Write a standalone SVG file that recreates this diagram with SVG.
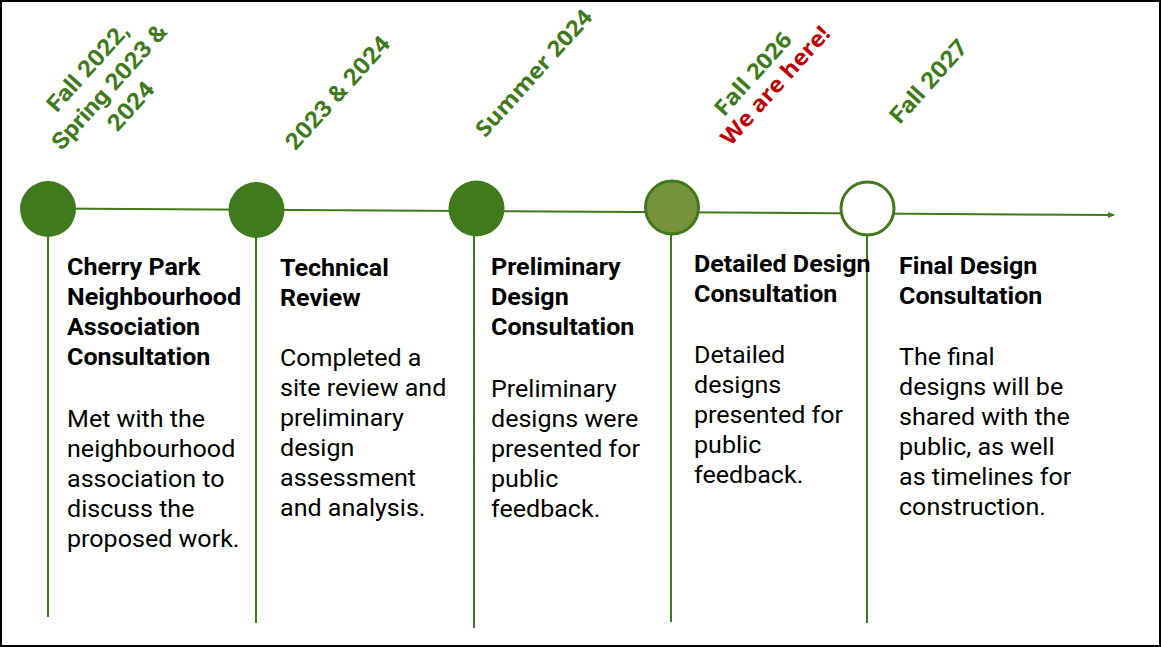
<svg xmlns="http://www.w3.org/2000/svg" width="1161" height="647" viewBox="0 0 1161 647">
<defs>
<style>
.ln{stroke:#3F7A1C;stroke-width:2;fill:none}
.dot{fill:#3F7A1C}
.date{font-family:Roboto,"Liberation Sans",sans-serif;font-weight:bold;font-size:23px;fill:#3F7A1C;text-anchor:middle}
.date2{font-family:"Open Sans","Liberation Sans",sans-serif;font-weight:bold;font-size:22px;fill:#3F7A1C;text-anchor:middle}
.red{fill:#C00000}
.title{font-family:Roboto,"Liberation Sans",sans-serif;font-weight:bold;font-size:23px;fill:#000}
.body{font-family:Roboto,"Liberation Sans",sans-serif;font-size:23px;fill:#000}
</style>
<marker id="arr" markerWidth="8" markerHeight="8" refX="6" refY="4" orient="auto" markerUnits="userSpaceOnUse">
<path d="M0,1 L7,4 L0,7 Z" fill="#3F7A1C"/>
</marker>
</defs>
<rect x="1" y="1" width="1159" height="645" fill="#fff" stroke="#000" stroke-width="2"/>
<g id="connectors">
<line class="ln" x1="48" y1="208.5" x2="1114" y2="215" marker-end="url(#arr)"/>
<line class="ln" x1="48" y1="237" x2="48" y2="617"/>
<line class="ln" x1="256" y1="238" x2="256" y2="623"/>
<line class="ln" x1="474" y1="236" x2="474" y2="628"/>
<line class="ln" x1="671" y1="235" x2="671" y2="622"/>
<line class="ln" x1="867" y1="236" x2="867" y2="623"/>
</g>
<g id="node1">
<circle class="dot" cx="48" cy="209" r="28"/>
<text class="date" transform="translate(115,92) rotate(-48) scale(1.09,1)"><tspan x="0" y="-29">Fall 2022,</tspan><tspan x="0" y="0">Spring 2023 &amp;</tspan><tspan x="0" y="29">2024</tspan></text>
<text class="title" transform="translate(67,0) scale(1.09,1)"><tspan x="0" y="275">Cherry Park</tspan><tspan x="0" y="305">Neighbourhood</tspan><tspan x="0" y="335">Association</tspan><tspan x="0" y="365">Consultation</tspan></text>
<text class="body" transform="translate(67,0) scale(1.09,1)"><tspan x="0" y="427">Met with the</tspan><tspan x="0" y="457">neighbourhood</tspan><tspan x="0" y="487">association to</tspan><tspan x="0" y="517">discuss the</tspan><tspan x="0" y="547">proposed work.</tspan></text>
</g>
<g id="node2">
<circle class="dot" cx="256.5" cy="210" r="28"/>
<text class="date" transform="translate(343.5,98) rotate(-48) scale(1.09,1)">2023 &amp; 2024</text>
<text class="title" transform="translate(280,0) scale(1.09,1)"><tspan x="0" y="276">Technical</tspan><tspan x="0" y="306">Review</tspan></text>
<text class="body" transform="translate(280,0) scale(1.09,1)"><tspan x="0" y="366">Completed a</tspan><tspan x="0" y="396">site review and</tspan><tspan x="0" y="426">preliminary</tspan><tspan x="0" y="456">design</tspan><tspan x="0" y="486">assessment</tspan><tspan x="0" y="516">and analysis.</tspan></text>
</g>
<g id="node3">
<circle class="dot" cx="476.5" cy="208.5" r="28"/>
<text class="date2" transform="translate(539.5,78) rotate(-48) scale(1.09,1)">Summer 2024</text>
<text class="title" transform="translate(491,0) scale(1.09,1)"><tspan x="0" y="275">Preliminary</tspan><tspan x="0" y="305">Design</tspan><tspan x="0" y="335">Consultation</tspan></text>
<text class="body" transform="translate(491,0) scale(1.09,1)"><tspan x="0" y="397">Preliminary</tspan><tspan x="0" y="427">designs were</tspan><tspan x="0" y="457">presented for</tspan><tspan x="0" y="487">public</tspan><tspan x="0" y="517">feedback.</tspan></text>
</g>
<g id="node4">
<circle cx="672" cy="207.5" r="26.5" fill="#77933C" stroke="#3F7A1C" stroke-width="3"/>
<text class="date2" transform="translate(758.5,79) rotate(-48) scale(1.09,1)">Fall 2026</text>
<text class="date2 red" transform="translate(781,90.5) rotate(-48) scale(1.09,1)">We are here!</text>
<text class="title" transform="translate(694,0) scale(1.09,1)"><tspan x="0" y="272">Detailed Design</tspan><tspan x="0" y="302">Consultation</tspan></text>
<text class="body" transform="translate(694,0) scale(1.09,1)"><tspan x="0" y="363">Detailed</tspan><tspan x="0" y="393">designs</tspan><tspan x="0" y="423">presented for</tspan><tspan x="0" y="453">public</tspan><tspan x="0" y="483">feedback.</tspan></text>
</g>
<g id="node5">
<circle cx="867.5" cy="208.5" r="26.5" fill="#fff" stroke="#3F7A1C" stroke-width="3"/>
<text class="date" transform="translate(934.5,86.5) rotate(-48) scale(1.09,1)">Fall 2027</text>
<text class="title" transform="translate(899,0) scale(1.09,1)"><tspan x="0" y="274">Final Design</tspan><tspan x="0" y="304">Consultation</tspan></text>
<text class="body" transform="translate(899,0) scale(1.09,1)"><tspan x="0" y="365">The final</tspan><tspan x="0" y="395">designs will be</tspan><tspan x="0" y="425">shared with the</tspan><tspan x="0" y="455">public, as well</tspan><tspan x="0" y="485">as timelines for</tspan><tspan x="0" y="515">construction.</tspan></text>
</g>
</svg>
